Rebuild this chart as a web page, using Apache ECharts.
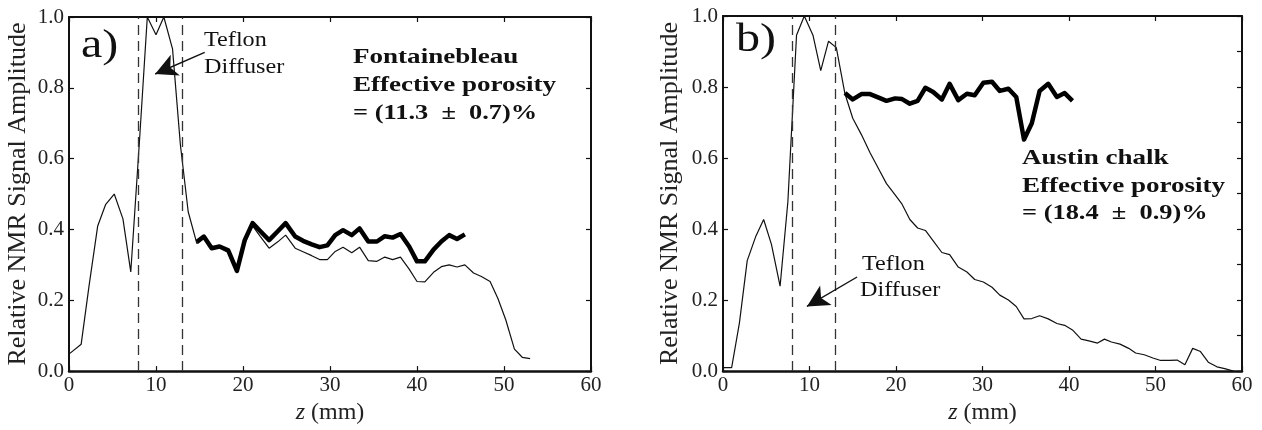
<!DOCTYPE html>
<html>
<head>
<meta charset="utf-8">
<script src="https://cdn.jsdelivr.net/npm/echarts@6/dist/echarts.min.js"></script>
<style>
html,body{margin:0;padding:0;background:#fff;}
#chart{width:1262px;height:430px;}
</style>
</head>
<body>
<div id="chart"></div>
<script>
// ---------- DATA ----------
// Panel a) Fontainebleau
const zA = [0.1,1.4,2.3,3.3,4.2,5.2,6.2,7.1,8.1,9.0,10.0,10.9,11.9,12.8,13.7,14.7,15.5,16.4,17.3,18.3,19.3,20.2,21.1,22.0,23.0,24.0,24.9,26.0,26.9,27.9,28.8,29.7,30.6,31.5,32.5,33.4,34.4,35.4,36.3,37.2,38.1,39.1,40.0,40.9,41.9,42.8,43.7,44.6,45.5,46.5,47.4,48.4,49.3,50.2,51.2,52.1,53.0];
const thinA = [0.05,0.076,0.24,0.41,0.47,0.50,0.43,0.28,0.65,1.0,0.95,1.0,0.91,0.64,0.45,0.36,0.375,0.345,0.35,0.335,0.28,0.36,0.41,0.38,0.347,0.365,0.384,0.347,0.337,0.326,0.315,0.315,0.338,0.35,0.334,0.35,0.312,0.31,0.322,0.315,0.322,0.288,0.253,0.252,0.279,0.295,0.30,0.294,0.30,0.277,0.267,0.253,0.205,0.145,0.062,0.039,0.035];
const thickZA = [14.7,15.5,16.4,17.3,18.3,19.3,20.2,21.1,22.0,23.0,24.0,24.9,26.0,26.9,27.9,28.8,29.7,30.6,31.5,32.5,33.4,34.4,35.4,36.3,37.2,38.1,39.1,40.0,40.9,41.9,42.8,43.7,44.6,45.5];
const thickA = [0.365,0.38,0.347,0.352,0.341,0.283,0.37,0.418,0.395,0.37,0.395,0.418,0.38,0.368,0.358,0.35,0.355,0.384,0.398,0.384,0.403,0.366,0.366,0.381,0.377,0.387,0.352,0.31,0.31,0.343,0.366,0.384,0.373,0.386];

// Panel b) Austin chalk
const zB = [0,1.0,1.9,2.8,3.8,4.7,5.6,6.6,7.5,8.5,9.4,10.4,11.3,12.2,13.1,14.1,15.0,16.0,17.0,18.0,18.9,19.9,20.7,21.6,22.5,23.4,24.3,25.3,26.2,27.2,28.2,29.1,30.1,31.1,32.0,33.0,33.9,34.8,35.7,36.6,37.6,38.6,39.5,40.4,41.4,42.3,43.3,44.1,44.9,45.9,46.9,47.7,48.7,49.7,50.6,51.6,52.5,53.4,54.3,55.2,56.1,57.1,58.0,59.0];
const thinB = [0.01,0.01,0.136,0.311,0.38,0.427,0.357,0.239,0.477,0.946,1.0,0.946,0.846,0.929,0.911,0.781,0.712,0.666,0.615,0.569,0.528,0.496,0.47,0.427,0.403,0.396,0.367,0.334,0.328,0.293,0.279,0.258,0.251,0.236,0.214,0.2,0.182,0.147,0.148,0.156,0.147,0.134,0.129,0.116,0.09,0.085,0.079,0.09,0.082,0.076,0.064,0.051,0.046,0.037,0.03,0.03,0.031,0.018,0.064,0.055,0.025,0.012,0.007,0.0];
const thickZB = [14.1,15.0,16.0,17.0,18.0,18.9,19.9,20.7,21.6,22.5,23.4,24.3,25.3,26.2,27.2,28.2,29.1,30.1,31.1,32.0,33.0,33.9,34.8,35.7,36.6,37.6,38.6,39.5,40.4];
const thickB = [0.783,0.765,0.78,0.78,0.77,0.761,0.768,0.766,0.753,0.761,0.798,0.786,0.765,0.809,0.763,0.781,0.777,0.812,0.815,0.789,0.795,0.772,0.652,0.698,0.789,0.809,0.772,0.783,0.761];

// diffuser boundaries (mm) and arrow annotations [tail, tip] in data coords
const diffuserEdges = [8, 13];
const arrowA = [[15.6, 0.90], [9.9, 0.839]];
const arrowB = [[15.5, 0.265], [9.7, 0.182]];

const xTicks = [0, 10, 20, 30, 40, 50, 60];
const yLabelName = 'Relative NMR Signal Amplitude';
const xLabelName = '{it|z} (mm)';

// ---------- CHART ----------
const FONT = '"Liberation Serif", "Times New Roman", serif';
const INK = '#111';
const chart = echarts.init(document.getElementById('chart'), null, {renderer: 'canvas'});

function pairs(xs, ys) { return xs.map((x, i) => [x, ys[i]]); }

function xAxes(gridIndex) {
  const base = {
    type: 'value', gridIndex: gridIndex, min: xTicks[0], max: xTicks[xTicks.length - 1], interval: 10,
    splitLine: {show: false},
    axisTick: {show: true, inside: true, length: 5, lineStyle: {color: INK, width: 1.2}}
  };
  return [
    Object.assign({}, base, {
      position: 'bottom',
      axisLine: {show: true, onZero: false, lineStyle: {color: INK, width: 2.5}},
      axisLabel: {show: true, margin: 4, fontFamily: FONT, fontSize: 21, color: '#222'},
      name: xLabelName, nameLocation: 'middle', nameGap: 25,
      nameTextStyle: {fontFamily: FONT, fontSize: 24, color: '#222',
        rich: {it: {fontFamily: FONT, fontSize: 24, fontStyle: 'italic', color: '#222'}}}
    }),
    Object.assign({}, base, {
      position: 'top',
      axisLine: {show: true, onZero: false, lineStyle: {color: INK, width: 1.8}},
      axisLabel: {show: false}
    })
  ];
}
function yAxes(gridIndex, rightInterval, nameGap) {
  return [
    {
      type: 'value', gridIndex: gridIndex, position: 'left', min: 0, max: 1, interval: 0.2,
      splitLine: {show: false},
      axisLine: {show: true, onZero: false, lineStyle: {color: INK, width: 2}},
      axisTick: {show: true, inside: true, length: 5, lineStyle: {color: INK, width: 1.2}},
      axisLabel: {show: true, margin: 5, fontFamily: FONT, fontSize: 21, color: '#222',
        formatter: v => v.toFixed(1)},
      name: yLabelName, nameLocation: 'middle', nameGap: nameGap,
      nameTextStyle: {fontFamily: FONT, fontSize: 26, color: '#222'}
    },
    {
      type: 'value', gridIndex: gridIndex, position: 'right', min: 0, max: 1, interval: rightInterval,
      splitLine: {show: false},
      axisLine: {show: true, onZero: false, lineStyle: {color: INK, width: 2}},
      axisTick: {show: true, inside: true, length: 5, lineStyle: {color: INK, width: 1.2}},
      axisLabel: {show: false}
    }
  ];
}

function dashedEdges() {
  return {
    silent: true, symbol: ['none', 'none'], animation: false,
    label: {show: false},
    lineStyle: {type: [10, 6], color: '#333', width: 1.3},
    data: diffuserEdges.map(v => ({xAxis: v}))
  };
}
function arrowLine(a) {
  return {
    silent: true, symbol: ['none', 'arrow'], symbolSize: 20, animation: false,
    label: {show: false},
    lineStyle: {type: 'solid', color: INK, width: 1.4},
    itemStyle: {color: INK},
    data: [[{coord: a[0], symbol: 'none'}, {coord: a[1], symbol: 'arrow', symbolSize: [17, 22]}]]
  };
}

function txt(x, y, text, size, bold, sx) {
  return {
    type: 'text', x: x, y: y, scaleX: sx || 1, silent: true,
    style: {text: text, x: 0, y: 0, fill: INK, textAlign: 'left', textVerticalAlign: 'middle',
      font: (bold ? 'bold ' : '') + size + 'px ' + FONT}
  };
}

const option = {
  animation: false,
  backgroundColor: '#fff',
  grid: [
    {left: 69, top: 17, width: 522, height: 362},
    {left: 723, top: 16, width: 519, height: 361.5}
  ],
  xAxis: [].concat(xAxes(0), xAxes(1)),
  yAxis: [].concat(yAxes(0, 0.2, 38), yAxes(1, 0.1, 40)),
  series: [
    {type: 'line', xAxisIndex: 0, yAxisIndex: 0, data: pairs(zA, thinA), showSymbol: false,
      lineStyle: {color: INK, width: 1.2}, markLine: dashedEdges()},
    {type: 'line', xAxisIndex: 0, yAxisIndex: 0, data: pairs(thickZA, thickA), showSymbol: false,
      lineStyle: {color: '#000', width: 4.5, join: 'round'}, markLine: arrowLine(arrowA)},
    {type: 'line', xAxisIndex: 2, yAxisIndex: 2, data: pairs(zB, thinB), showSymbol: false,
      lineStyle: {color: INK, width: 1.2}, markLine: dashedEdges()},
    {type: 'line', xAxisIndex: 2, yAxisIndex: 2, data: pairs(thickZB, thickB), showSymbol: false,
      lineStyle: {color: '#000', width: 4.5, join: 'round'}, markLine: arrowLine(arrowB)}
  ],
  graphic: [
    txt(81, 46, 'a)', 40, false, 1.2),
    txt(204, 40, 'Teflon', 22, false, 1.1),
    txt(204, 67, 'Diffuser', 22, false, 1.1),
    txt(353, 57, 'Fontainebleau', 22, true, 1.23),
    txt(353, 85, 'Effective porosity', 22, true, 1.23),
    txt(353, 113, '= (11.3  \u00b1  0.7)%', 22, true, 1.2),
    txt(736, 40, 'b)', 40, false, 1.2),
    txt(862, 264, 'Teflon', 22, false, 1.1),
    txt(860, 290, 'Diffuser', 22, false, 1.1),
    txt(1022, 158, 'Austin chalk', 22, true, 1.23),
    txt(1022, 186, 'Effective porosity', 22, true, 1.23),
    txt(1022, 213, '= (18.4  \u00b1  0.9)%', 22, true, 1.2)
  ]
};
chart.setOption(option);
</script>
</body>
</html>
